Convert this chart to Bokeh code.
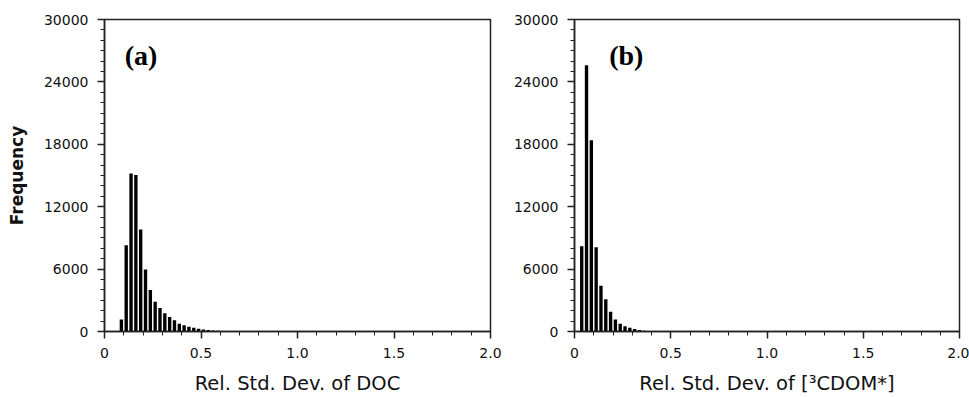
from bokeh.plotting import figure
from bokeh.layouts import row
from bokeh.models import Label, FixedTicker
from bokeh.embed import file_html
from bokeh.resources import INLINE

# ---- data ----
bin_width = 0.025
doc_first_center = 0.0875
doc_counts = [1150, 8300, 15200, 15050, 9800, 5960, 4000, 2850, 2270, 1750, 1400,
              1080, 750, 600, 450, 350, 260, 200, 150, 100, 80, 50]
cdom_first_center = 0.0375
cdom_counts = [8200, 25600, 18400, 8100, 4400, 3100, 1900, 1150, 750, 500, 350,
               250, 150, 80]
x_ticks = [0, 0.5, 1.0, 1.5, 2.0]
x_tick_labels = ["0", "0.5", "1.0", "1.5", "2.0"]
y_ticks = [0, 6000, 12000, 18000, 24000, 30000]
y_tick_labels = ["0", "6000", "12000", "18000", "24000", "30000"]
panel_a_label = "(a)"
panel_b_label = "(b)"
xlabel_a = "Rel. Std. Dev. of DOC"
xlabel_b = "Rel. Std. Dev. of [³CDOM*]"
ylabel = "Frequency"

FONT = "DejaVu Sans"
HEIGHT = 397
TOP = 19
FRAME_H = 312


def make_panel(first_center, counts, xlabel, panel_label, label_x, show_ylabel,
               width, min_left, min_right):
    centers = [first_center + i * bin_width for i in range(len(counts))]
    p = figure(width=width, height=HEIGHT, x_range=(0, 2.0), y_range=(0, 30000),
               output_backend="svg", toolbar_location=None,
               min_border_left=min_left, min_border_right=min_right,
               min_border_top=TOP, min_border_bottom=HEIGHT - TOP - FRAME_H)
    p.vbar(x=centers, top=counts, width=bin_width * 0.7, bottom=0,
           fill_color="black", line_color=None)
    p.xgrid.visible = False
    p.ygrid.visible = False
    p.outline_line_color = "#222222"
    p.outline_line_width = 1.5
    p.background_fill_color = "white"
    p.border_fill_color = "white"

    xa = p.xaxis[0]
    xa.ticker = FixedTicker(ticks=x_ticks,
                            minor_ticks=[round(i * 0.1, 2) for i in range(21)])
    xa.major_label_overrides = {t: l for t, l in zip(x_ticks, x_tick_labels)}
    ya = p.yaxis[0]
    ya.ticker = FixedTicker(ticks=y_ticks,
                            minor_ticks=[i * 1000 for i in range(31)])
    ya.major_label_overrides = {t: l for t, l in zip(y_ticks, y_tick_labels)}

    for ax in (xa, ya):
        ax.axis_line_color = "#222222"
        ax.axis_line_width = 1.5
        ax.major_tick_line_color = "#222222"
        ax.minor_tick_line_color = "#222222"
        ax.major_tick_line_width = 1.5
        ax.minor_tick_line_width = 1
        ax.major_tick_in = 0
        ax.major_tick_out = 7
        ax.minor_tick_in = 0
        ax.minor_tick_out = 4
        ax.major_label_text_font = FONT
        ax.major_label_text_font_size = "14px"
        ax.major_label_text_color = "#111111"
        ax.major_label_standoff = 9
        ax.axis_label_text_font = FONT
        ax.axis_label_text_font_size = "19.5px"
        ax.axis_label_text_font_style = "normal"
        ax.axis_label_text_color = "#111111"

    xa.axis_label = xlabel
    xa.axis_label_standoff = 11
    if show_ylabel:
        ya.axis_label = ylabel
        ya.axis_label_standoff = 14
        ya.axis_label_text_font_size = "17px"
        ya.axis_label_text_font_style = "bold"

    p.add_layout(Label(x=label_x, y=26500, text=panel_label,
                       text_font="Liberation Serif", text_font_style="bold",
                       text_font_size="28px", text_baseline="middle",
                       text_color="black"))
    return p


p1 = make_panel(doc_first_center, doc_counts, xlabel_a, panel_a_label, 0.105,
                True, 510, 104, 20)
p2 = make_panel(cdom_first_center, cdom_counts, xlabel_b, panel_b_label, 0.18,
                False, 459, 63, 10)

layout = row(p1, p2)
open("out.html", "w").write(file_html(layout, INLINE))
